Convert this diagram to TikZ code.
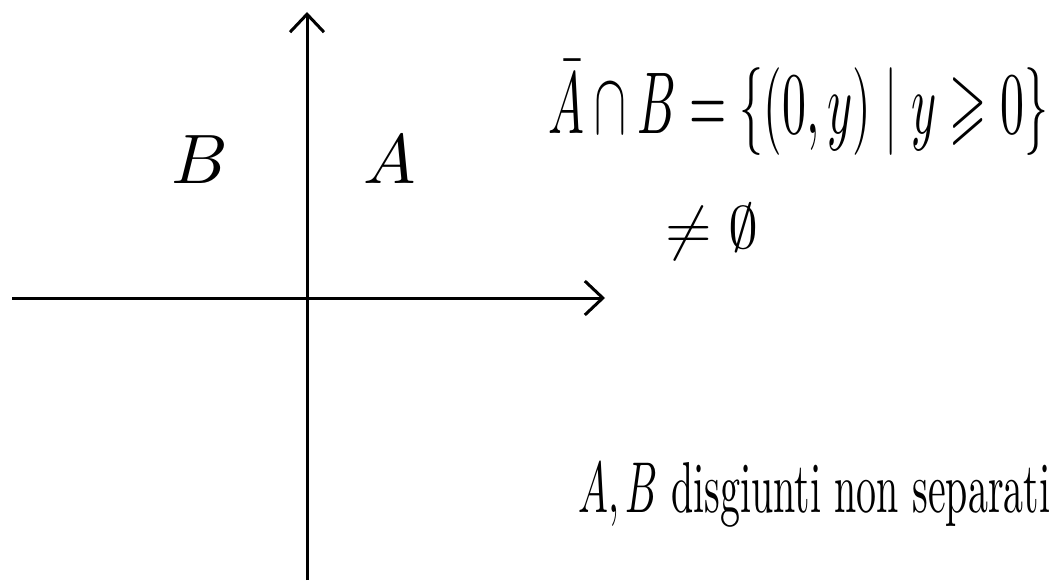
\documentclass[tikz,border=0pt]{standalone}
\usepackage{amsmath,amssymb}
\usetikzlibrary{arrows.meta}
\begin{document}
\begin{tikzpicture}[x=1pt,y=-1pt,
  axis/.style={line width=3pt,-{Straight Barb[length=18pt,width=34pt,line width=3pt]}},
  lbl/.style={inner sep=0pt}]
\useasboundingbox (0,0) rectangle (1059,588);
\coordinate (ybot) at (307,580);
\coordinate (ytop) at (307,12);
\coordinate (xl) at (12,298);
\coordinate (xr) at (605,298);
\draw[axis] (ybot) -- (ytop);
\draw[axis] (xl) -- (xr);
\node[lbl] (B) at (200,160) {\scalebox{7}{$B$}};
\node[lbl] (A) at (390,160) {\scalebox{7}{$A$}};
\node[lbl,anchor=west] (eq) at (548,108) {\resizebox{500pt}{72pt}{$\bar{A}\cap B=\{(0,y)\mid y\geqslant 0\}$}};
\node[lbl] (ne) at (712,232) {\scalebox{6}{$\neq\emptyset$}};
\node[lbl,anchor=west] (txt) at (578,495) {\resizebox{472pt}{50pt}{$A,B$ disgiunti non separati}};
\end{tikzpicture}
\end{document}
